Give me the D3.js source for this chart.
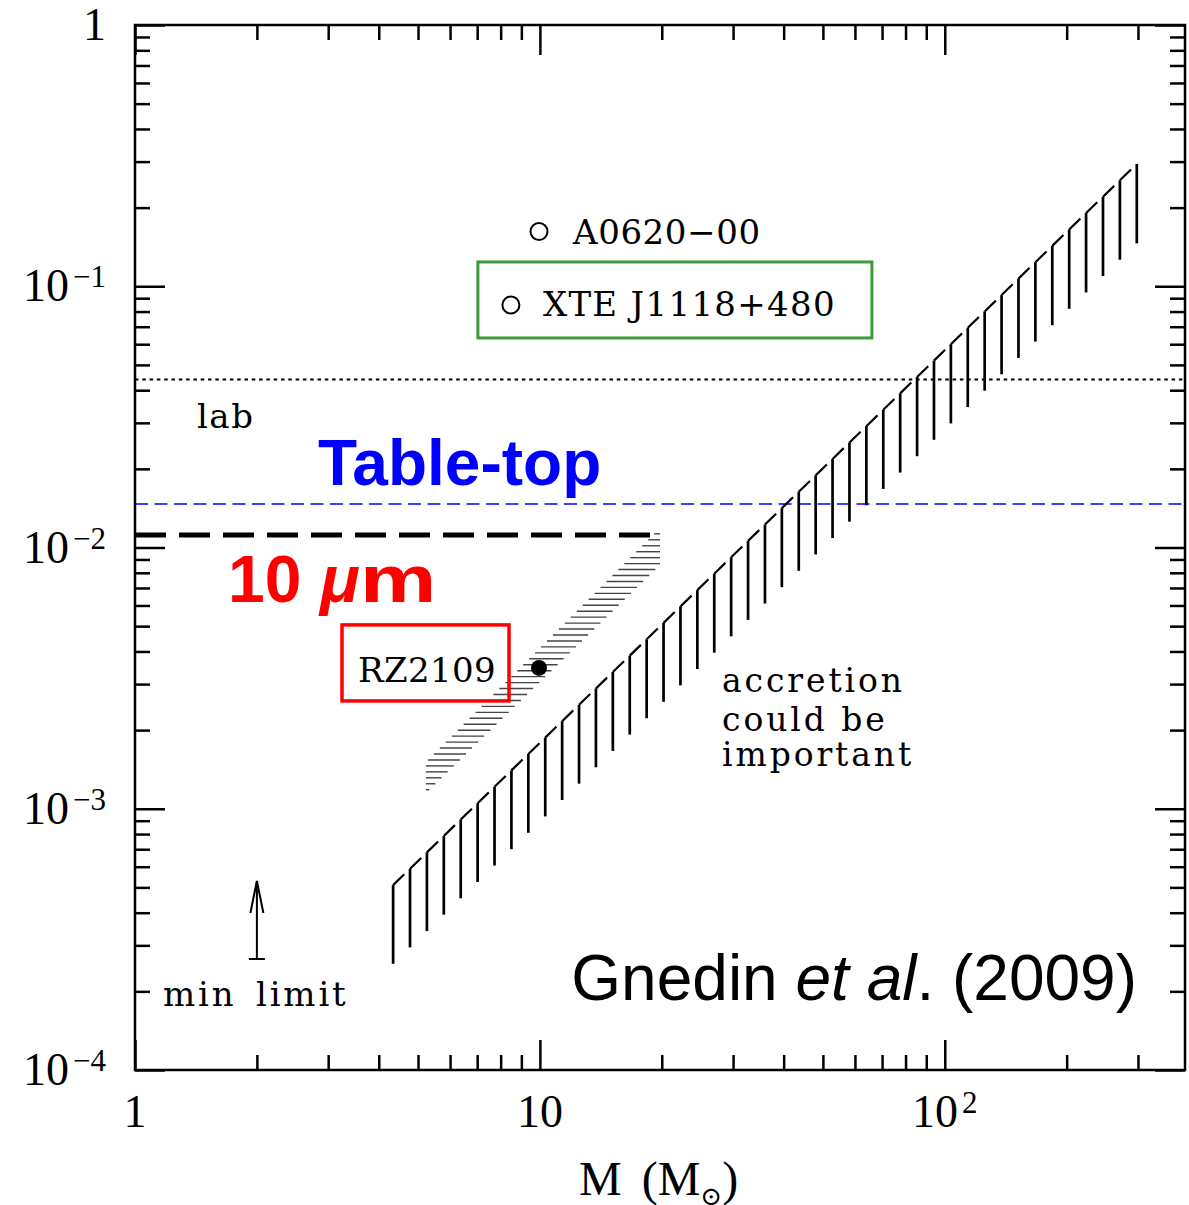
<!DOCTYPE html>
<html>
<head>
<meta charset="utf-8">
<script src="https://cdn.jsdelivr.net/npm/d3@7"></script>
<style>
  html, body { margin: 0; padding: 0; background: #fff; }
  svg { display: block; }
  .serif { font-family: "DejaVu Serif", "Liberation Serif", serif; }
  .roman { font-family: "Liberation Serif", "Times New Roman", serif; }
  .sans { font-family: "Liberation Sans", Arial, Helvetica, sans-serif; }
</style>
</head>
<body>
<svg id="chart" width="1189" height="1205"></svg>
<script>
// ---- axes ----
const massDomain = [1, 392];
const alphaDomain = [1e-4, 1];
const xMajorTicks = [1, 10, 100];
const xTickLabels = [["1", ""], ["10", ""], ["10", "2"]];
const yMajorTicks = [1, 1e-1, 1e-2, 1e-3, 1e-4];
const yTickLabels = [["1", ""], ["10", "\u22121"], ["10", "\u22122"], ["10", "\u22123"], ["10", "\u22124"]];

// ---- horizontal limits ----
const labLimit = 0.0440;
const tableTopLimit = 0.01467;
const tenMicronLimit = 0.01116;
const tenMicronMassMax = 20;

// ---- black hole systems ----
const holeNames = ["A0620\u221200", "XTE J1118+480", "RZ2109"];
const holeMass = [9.95, 8.48, 9.95];
const holeAlpha = [0.162, 0.0848, 3.46e-3];
const holeFilled = [false, false, true];

// ---- region where accretion could be important ----
const accretionMass = [4.34, 298];
const accretionUpper = [5.1e-4, 0.294];
const accretionLower = [2.55e-4, 0.146];

// ---- allowed band for RZ2109 ----
const bandMass = [5.23, 19.8];
const bandUpper = [1.51e-3, 0.01188];
const bandLower = [1.149e-3, 8.57e-3];

// ---- minimum limit arrow ----
const minLimitMass = 2;
const minLimitAlpha = [2.66e-4, 5.29e-4];

(function draw() {
const svg = d3.select("#chart");
const plotLeft = 135, plotRight = 1185, plotTop = 25, plotBottom = 1070;

const x = d3.scaleLog().domain(massDomain).range([plotLeft, plotRight]);
const y = d3.scaleLog().domain(alphaDomain).range([plotBottom, plotTop]);

const isMajor = v => Math.abs(Math.log10(v) - Math.round(Math.log10(v))) < 1e-9;
const xMinor = x.ticks().filter(v => !isMajor(v));
const yMinor = y.ticks().filter(v => !isMajor(v));

// ---- frame and ticks (all ticks point inward) ----
function styleAxis(g) {
  g.select(".domain").remove();
  g.selectAll(".tick line").attr("stroke", "#000").attr("stroke-width", 2.5);
  g.selectAll("text").remove();
}
const axes = svg.append("g");
[[xMinor, 15], [xMajorTicks, 30]].forEach(([vals, len]) => {
  axes.append("g").attr("transform", `translate(0,${plotBottom})`)
    .call(d3.axisBottom(x).tickValues(vals).tickSize(-len).tickSizeOuter(0).tickFormat(""))
    .call(styleAxis);
  axes.append("g").attr("transform", `translate(0,${plotTop})`)
    .call(d3.axisTop(x).tickValues(vals).tickSize(-len).tickSizeOuter(0).tickFormat(""))
    .call(styleAxis);
});
[[yMinor, 15], [yMajorTicks, 30]].forEach(([vals, len]) => {
  axes.append("g").attr("transform", `translate(${plotLeft},0)`)
    .call(d3.axisLeft(y).tickValues(vals).tickSize(-len).tickSizeOuter(0).tickFormat(""))
    .call(styleAxis);
  axes.append("g").attr("transform", `translate(${plotRight},0)`)
    .call(d3.axisRight(y).tickValues(vals).tickSize(-len).tickSizeOuter(0).tickFormat(""))
    .call(styleAxis);
});
svg.append("rect")
  .attr("x", plotLeft).attr("y", plotTop)
  .attr("width", plotRight - plotLeft).attr("height", plotBottom - plotTop)
  .attr("fill", "none").attr("stroke", "#000").attr("stroke-width", 2.5);

// ---- tick labels ----
function powerLabel(sel, base, sup) {
  sel.append("tspan").text(base);
  if (sup) sel.append("tspan").attr("font-size", 31).attr("dy", -14).attr("dx", 4).text(sup);
}
xMajorTicks.forEach((v, i) => {
  const t = svg.append("text").attr("class", "roman")
    .attr("x", x(v)).attr("y", 1127)
    .attr("text-anchor", "middle").attr("font-size", 46).attr("fill", "#000");
  powerLabel(t, xTickLabels[i][0], xTickLabels[i][1]);
});
yMajorTicks.forEach((v, i) => {
  const t = svg.append("text").attr("class", "roman")
    .attr("x", 106).attr("y", y(v) + 15)
    .attr("text-anchor", "end").attr("font-size", 46).attr("fill", "#000");
  powerLabel(t, yTickLabels[i][0], yTickLabels[i][1]);
});

// x axis title: M (M_sun)
const xt = svg.append("text").attr("class", "roman")
  .attr("x", 579).attr("y", 1195).attr("font-size", 48).attr("fill", "#000");
xt.append("tspan").text("M");
xt.append("tspan").attr("dx", 20).text("(M");
xt.append("tspan").attr("class", "serif").attr("font-size", 26).attr("dy", 10).text("\u2299");
xt.append("tspan").attr("dy", -10).text(")");

// ---- horizontal limit lines ----
const hline = (v, x0, x1) => d3.line()([[x(x0), y(v)], [x(x1), y(v)]]);
svg.append("path").attr("d", hline(labLimit, massDomain[0], massDomain[1]))
  .attr("stroke", "#000").attr("stroke-width", 2).attr("stroke-dasharray", "3.5 3.8").attr("fill", "none");
svg.append("path").attr("d", hline(tableTopLimit, massDomain[0], massDomain[1]))
  .attr("stroke", "#0000ff").attr("stroke-width", 1.6).attr("stroke-dasharray", "13 6.5").attr("fill", "none");
svg.append("path").attr("d", hline(tenMicronLimit, massDomain[0], tenMicronMassMax))
  .attr("stroke", "#000").attr("stroke-width", 5).attr("stroke-dasharray", "31 13").attr("fill", "none");

// ---- accretion region: hanging verticals under a dashed upper edge ----
{
  const x0 = x(accretionMass[0]), x1 = x(accretionMass[1]);
  const u0 = y(accretionUpper[0]), u1 = y(accretionUpper[1]);
  const l0 = y(accretionLower[0]), l1 = y(accretionLower[1]);
  const n = Math.round((x1 - x0) / 16.9);
  const g = svg.append("g").attr("stroke", "#000").attr("fill", "none");
  for (let i = 0; i <= n; i++) {
    const t = i / n;
    const px = x0 + (x1 - x0) * t;
    g.append("line")
      .attr("x1", px).attr("x2", px)
      .attr("y1", u0 + (u1 - u0) * t).attr("y2", l0 + (l1 - l0) * t)
      .attr("stroke-width", 2.7);
  }
  const len = Math.hypot(x1 - x0, u1 - u0);
  const period = len / n;
  g.append("path").attr("d", d3.line()([[x0, u0], [x1, u1]]))
    .attr("stroke-width", 2.2)
    .attr("stroke-dasharray", `${period * 0.66} ${period * 0.34}`);
}

// ---- RZ2109 band: horizontal hatching ----
{
  const bx0 = x(bandMass[0]), bx1 = x(bandMass[1]);
  const uy0 = y(bandUpper[0]), uy1 = y(bandUpper[1]);
  const ly0 = y(bandLower[0]), ly1 = y(bandLower[1]);
  const xu = yy => bx0 + (yy - uy0) * (bx1 - bx0) / (uy1 - uy0);
  const xl = yy => bx0 + (yy - ly0) * (bx1 - bx0) / (ly1 - ly0);
  const g = svg.append("g").attr("stroke", "#444").attr("stroke-width", 1.4);
  for (let yy = uy1 + 5.9; yy <= ly0; yy += 5.95) {
    const a = Math.max(bx0, xu(yy));
    const b = Math.min(bx1, xl(yy));
    if (b > a) g.append("line").attr("x1", a).attr("x2", b).attr("y1", yy).attr("y2", yy);
  }
}

// ---- black hole systems ----
holeMass.forEach((m, i) => {
  svg.append("circle")
    .attr("cx", x(m)).attr("cy", y(holeAlpha[i]))
    .attr("r", holeFilled[i] ? 8 : 8.5)
    .attr("fill", holeFilled[i] ? "#000" : "#fff")
    .attr("stroke", "#000").attr("stroke-width", holeFilled[i] ? 0 : 2);
});
{
  const a = [x(holeMass[0]), y(holeAlpha[0])];
  svg.append("text").attr("class", "serif").attr("font-size", 34).attr("letter-spacing", 0.6)
    .attr("x", a[0] + 34).attr("y", a[1] + 12).text(holeNames[0]);

  const b = [x(holeMass[1]), y(holeAlpha[1])];
  svg.append("rect").attr("x", b[0] - 33).attr("y", b[1] - 43).attr("width", 394).attr("height", 76)
    .attr("fill", "none").attr("stroke", "#3a9b3a").attr("stroke-width", 3);
  svg.append("text").attr("class", "serif").attr("font-size", 34).attr("letter-spacing", 1.3)
    .attr("x", b[0] + 32).attr("y", b[1] + 11).text(holeNames[1]);

  const c = [x(holeMass[2]), y(holeAlpha[2])];
  svg.append("rect").attr("x", c[0] - 197).attr("y", c[1] - 43).attr("width", 167).attr("height", 76)
    .attr("fill", "none").attr("stroke", "#ff0000").attr("stroke-width", 3.5);
  svg.append("text").attr("class", "serif").attr("font-size", 34).attr("letter-spacing", 0.4)
    .attr("x", c[0] - 181).attr("y", c[1] + 14).text(holeNames[2]);
}

// ---- minimum limit arrow ----
{
  const ax = x(minLimitMass), ay0 = y(minLimitAlpha[0]), ay1 = y(minLimitAlpha[1]);
  const g = svg.append("g").attr("stroke", "#000").attr("stroke-width", 2).attr("fill", "none");
  g.append("line").attr("x1", ax).attr("x2", ax).attr("y1", ay0).attr("y2", ay1);
  g.append("line").attr("x1", ax - 8).attr("x2", ax + 8).attr("y1", ay0).attr("y2", ay0);
  g.append("path").attr("d", d3.line()([[ax - 6.5, ay1 + 32], [ax, ay1], [ax + 6.5, ay1 + 32]]));
}

// ---- annotations ----
const note = (txt, px, py, size, ls) => svg.append("text").attr("class", "serif")
  .attr("x", px).attr("y", py).attr("font-size", size).attr("letter-spacing", ls).text(txt);
note("lab", 197, 428, 34, 1.5);
note("min limit", 163, 1006, 34, 2.8).attr("word-spacing", 6);
note("accretion", 722, 692, 33, 2.9);
note("could be", 722, 731, 33, 2.9);
note("important", 722, 766, 33, 2.9);

svg.append("text").attr("class", "sans").attr("font-weight", "bold")
  .attr("font-size", 64).attr("fill", "#0000ff")
  .attr("x", 318).attr("y", 485).text("Table-top");

const tm = svg.append("g").attr("class", "sans").attr("font-weight", "bold")
  .attr("font-size", 66).attr("fill", "#ff0000");
tm.append("text").attr("x", 228).attr("y", 602).text("10");
tm.append("text").attr("x", 320).attr("y", 602).attr("font-style", "italic").text("\u03bc");
tm.append("text").attr("transform", "translate(360,602) scale(1.3,1)").text("m");

const gn = svg.append("text").attr("class", "sans").attr("font-size", 64).attr("fill", "#000")
  .attr("x", 1137).attr("y", 1000).attr("text-anchor", "end");
gn.append("tspan").text("Gnedin ");
gn.append("tspan").attr("font-style", "italic").text("et al");
gn.append("tspan").text(". (2009)");
})();
</script>
</body>
</html>
